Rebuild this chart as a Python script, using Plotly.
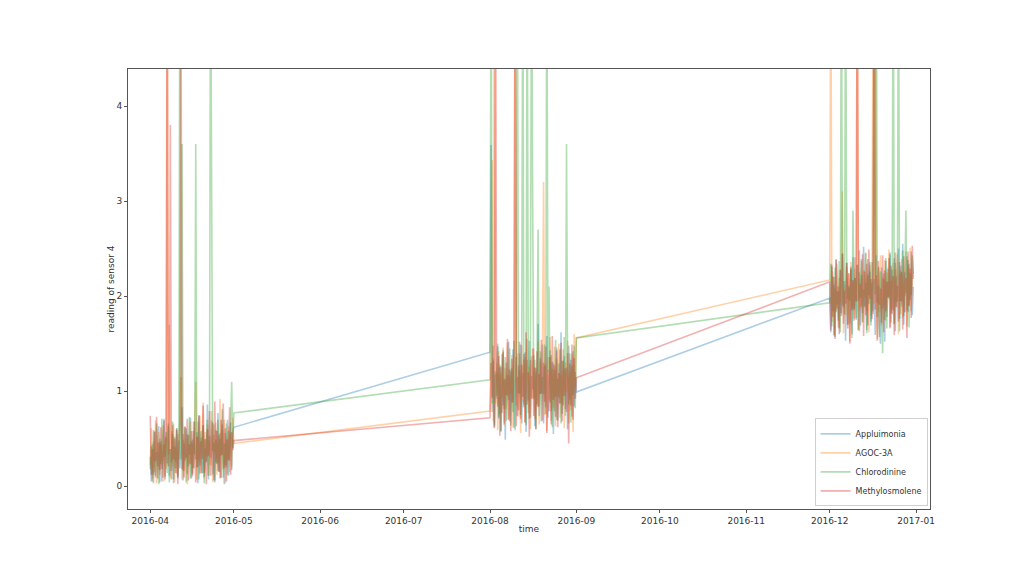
import pandas as pd
import plotly.graph_objects as go

# ---- data ----
series_names = ["Appluimonia", "AGOC-3A", "Chlorodinine", "Methylosmolene"]
series_colors = ["31,119,180", "255,127,14", "44,160,44", "214,39,40"]

period_starts = ["2016-04-01", "2016-08-01", "2016-12-01"]
period_ends = ["2016-05-01", "2016-09-01", "2016-12-31"]

apl_1 = [0.31, 0.05, 0.44, 0.12, 0.58, 0.09, 0.36, 0.21, 0.63, 0.04,
         0.47, 0.18, 0.29, 0.71, 0.07, 0.52, 0.24, 0.66, 0.11, 0.39,
         0.16, 0.55, 0.03, 0.42, 0.26, 0.61, 0.08, 0.48, 0.19, 0.35,
         0.83, 0.06, 0.45, 0.27, 0.61, 0.13, 0.54, 0.33, 0.72, 0.08,
         0.49, 0.19, 0.68, 0.28, 0.57, 0.03, 0.74, 0.22, 0.51, 0.14,
         0.64, 0.10, 0.40, 0.25, 0.86, 0.07, 0.53, 0.30, 0.69, 0.12,
         0.46, 0.04, 0.59, 0.23, 0.77, 0.15, 0.50, 0.09, 0.65, 0.34,
         0.02, 0.56, 0.20, 0.70, 0.11, 0.43, 0.67, 0.17, 0.58, 0.62]
apl_2 = [1.41, 3.59, 0.78, 1.32, 0.64, 1.18, 0.92, 1.47, 0.71, 1.25,
         0.58, 1.39, 0.85, 1.12, 0.49, 1.30, 0.95, 1.52, 0.68, 1.21,
         0.88, 1.44, 0.61, 1.08, 1.36, 0.74, 1.27, 0.97, 1.49, 0.66,
         1.19, 0.83, 1.41, 0.57, 1.33, 0.90, 1.53, 0.72, 1.16, 1.02,
         1.38, 0.63, 1.24, 0.86, 1.71, 0.74, 1.35, 0.97, 1.49, 0.66,
         1.27, 0.83, 1.58, 0.72, 1.16, 1.43, 0.79, 1.31, 0.55, 1.22,
         0.94, 1.46, 0.69, 1.29, 0.87, 1.62, 0.76, 1.14, 1.37, 0.81,
         1.25, 0.60, 1.48, 0.91, 1.33, 0.73, 1.42, 0.84, 1.20, 0.99]
apl_3 = [1.98, 1.62, 2.31, 1.84, 2.12, 1.57, 2.38, 1.91, 2.05, 1.66,
         2.27, 1.79, 2.44, 1.88, 2.16, 1.53, 2.35, 1.97, 2.09, 1.71,
         2.29, 1.60, 2.41, 1.86, 2.19, 1.75, 2.33, 1.95, 2.48, 1.69,
         2.22, 1.82, 2.52, 1.90, 2.14, 1.64, 2.39, 2.01, 2.26, 1.73,
         2.36, 1.81, 2.18, 1.59, 2.43, 1.93, 2.11, 1.68, 1.50, 2.30,
         1.87, 2.24, 1.52, 2.37, 1.78, 2.15, 1.99, 2.46, 1.72, 2.28,
         1.85, 2.40, 1.63, 2.21, 1.94, 2.50, 1.76, 2.32, 1.89, 2.55,
         1.70, 2.25, 2.03, 2.42, 1.83, 2.34, 1.96, 2.47, 1.80, 2.10]

agoc_1 = [0.22, 0.61, 0.08, 0.47, 0.15, 0.69, 0.03, 0.38, 0.57, 0.12,
          0.44, 0.26, 0.64, 0.05, 0.51, 0.18, 6.0, 0.33, 1.7, 0.09,
          0.58, 0.21, 0.66, 0.04, 0.40, 0.13, 0.55, 0.28, 0.71, 1.15,
          0.07, 0.49, 0.16, 0.62, 0.30, 0.02, 0.53, 0.24, 0.68, 0.10,
          0.45, 0.19, 0.60, 1.1, 0.06, 0.52, 0.27, 0.74, 0.14, 0.43,
          0.88, 0.08, 0.57, 0.31, 0.65, 0.11, 0.48, 0.22, 0.79, 0.04,
          0.54, 0.35, 0.67, 0.12, 0.46, 0.25, 0.92, 0.09, 0.59, 0.18,
          0.70, 0.03, 0.50, 0.29, 0.63, 0.15, 0.56, 0.20, 0.72, 0.45]
agoc_2 = [0.79, 1.35, 3.43, 0.68, 6.0, 0.87, 1.29, 0.59, 1.42, 0.76,
          1.19, 0.93, 1.46, 0.64, 1.24, 0.81, 1.51, 0.70, 1.15, 0.97,
          1.38, 0.62, 1.27, 6.0, 0.85, 1.40, 0.73, 1.22, 0.56, 1.48,
          0.89, 1.33, 0.67, 1.18, 1.55, 0.77, 1.26, 0.60, 1.37, 0.92,
          1.45, 0.71, 1.20, 0.84, 1.52, 0.65, 1.31, 0.98, 1.43, 3.2,
          0.75, 1.28, 0.58, 1.36, 0.90, 1.57, 0.69, 1.23, 0.82, 1.47,
          0.63, 1.34, 0.95, 1.50, 0.72, 1.17, 0.86, 1.44, 0.61, 1.30,
          0.99, 1.53, 0.66, 1.21, 0.80, 1.39, 0.57, 1.60, 1.04, 1.56]
agoc_3 = [2.17, 6.0, 1.73, 2.26, 1.58, 2.08, 1.85, 2.34, 1.67, 2.19,
          1.93, 2.40, 3.1, 1.61, 2.12, 1.80, 2.31, 1.70, 2.24, 1.52,
          2.36, 1.88, 2.15, 1.76, 2.29, 1.95, 6.0, 1.65, 2.18, 1.87,
          2.37, 1.72, 2.27, 1.99, 2.46, 1.84, 2.21, 1.62, 2.33, 1.79,
          2.09, 6.0, 1.92, 6.0, 2.14, 1.55, 2.30, 1.83, 2.43, 1.69,
          2.20, 1.90, 2.38, 1.74, 2.25, 1.98, 2.49, 1.66, 2.16, 1.86,
          2.35, 1.71, 2.28, 1.94, 2.44, 1.60, 2.23, 1.81, 2.39, 1.77,
          2.13, 2.00, 2.47, 1.68, 2.32, 1.89, 2.51, 1.84, 2.22, 2.21]

chl_1 = [0.18, 0.42, 0.05, 0.59, 0.27, 0.11, 0.66, 0.35, 0.02, 0.50,
         0.23, 0.71, 0.09, 0.44, 0.31, 0.57, 0.14, 0.63, 0.04, 0.39,
         0.25, 0.68, 0.07, 0.52, 0.19, 0.61, 0.10, 0.46, 6.0, 0.28,
         3.6, 0.16, 0.62, 0.30, 0.04, 0.55, 0.21, 0.73, 0.08, 0.47,
         0.13, 0.58, 0.34, 3.6, 0.20, 0.68, 0.07, 0.41, 0.58, 0.13,
         0.64, 0.03, 0.49, 0.26, 0.70, 0.11, 0.53, 6.0, 1.95, 0.37,
         0.65, 0.06, 0.49, 0.24, 0.70, 0.15, 0.56, 0.32, 0.81, 0.09,
         0.45, 0.22, 0.66, 0.12, 0.58, 0.27, 0.71, 1.1, 0.40, 0.77]
chl_2 = [1.12, 6.0, 0.87, 1.34, 0.62, 1.21, 0.95, 1.50, 0.73, 1.28,
         0.57, 1.09, 1.43, 0.81, 1.36, 0.69, 1.17, 0.91, 1.45, 0.64,
         1.24, 0.78, 1.53, 0.59, 1.31, 6.0, 0.98, 1.40, 0.75, 1.19,
         6.0, 0.86, 1.36, 0.64, 6.0, 1.24, 0.71, 1.47, 6.0, 3.1,
         0.92, 1.33, 0.60, 1.26, 2.7, 0.84, 1.42, 0.68, 1.15, 0.97,
         1.49, 0.76, 6.0, 1.21, 2.1, 0.88, 1.38, 0.62, 1.29, 0.79,
         1.54, 0.70, 1.13, 0.93, 1.44, 0.66, 1.32, 0.85, 1.57, 0.74,
         3.6, 1.19, 0.86, 1.40, 0.67, 1.27, 0.96, 1.48, 0.82, 1.56]
chl_3 = [1.93, 2.34, 1.68, 2.21, 1.59, 2.30, 1.83, 2.05, 1.74, 2.37,
         1.62, 6.0, 1.90, 2.16, 1.81, 6.0, 2.42, 1.70, 2.11, 1.95,
         2.28, 1.56, 2.9, 1.86, 2.19, 1.77, 2.33, 1.64, 2.25, 1.98,
         2.39, 1.73, 2.07, 1.88, 2.45, 1.61, 2.23, 1.92, 2.36, 1.69,
         2.14, 1.84, 6.0, 2.02, 6.0, 1.78, 2.31, 1.57, 2.26, 1.91,
         1.40, 2.18, 1.75, 2.40, 1.66, 2.29, 1.97, 2.44, 1.82, 2.12,
         6.0, 1.71, 2.35, 1.89, 2.20, 6.0, 1.63, 2.27, 1.94, 2.48,
         1.79, 2.16, 2.9, 1.85, 2.38, 1.67, 2.24, 2.01, 2.43, 2.23]

met_1 = [0.74, 0.12, 0.39, 0.03, 0.57, 0.26, 0.73, 0.08, 0.46, 0.17,
         0.62, 0.05, 0.34, 0.69, 0.10, 0.53, 6.0, 0.21, 0.45, 3.8,
         0.07, 0.64, 0.28, 0.50, 0.14, 0.59, 0.02, 0.41, 0.67, 6.0,
         0.18, 0.55, 0.09, 0.63, 0.30, 0.71, 0.06, 0.44, 0.23, 0.58,
         0.11, 0.68, 0.36, 0.04, 0.52, 0.20, 0.75, 0.13, 0.47, 0.29,
         0.85, 0.14, 0.50, 0.02, 0.60, 0.32, 0.79, 0.11, 0.43, 0.67,
         0.06, 0.89, 0.25, 0.58, 0.16, 0.54, 0.08, 0.70, 0.33, 0.87,
         0.19, 0.61, 0.05, 0.49, 0.27, 0.83, 0.12, 0.57, 0.38, 0.48]
met_2 = [0.72, 1.30, 0.93, 1.48, 0.61, 6.0, 1.19, 0.84, 1.37, 0.53,
         1.26, 0.77, 1.41, 0.66, 1.13, 0.96, 1.55, 0.70, 1.23, 0.58,
         1.34, 0.88, 1.46, 6.0, 0.63, 1.15, 0.80, 1.52, 0.71, 1.28,
         0.94, 1.39, 0.67, 1.62, 0.86, 1.20, 0.52, 1.33, 0.92, 1.45,
         0.74, 1.25, 0.60, 1.42, 0.83, 1.18, 0.97, 1.54, 0.69, 1.30,
         0.89, 1.47, 0.56, 1.22, 0.79, 1.36, 0.65, 1.58, 0.91, 1.27,
         0.73, 1.43, 0.62, 1.19, 0.87, 1.51, 0.68, 1.32, 0.95, 1.24,
         0.78, 1.40, 0.45, 1.29, 0.85, 1.49, 0.70, 1.35, 0.92, 1.14]
met_3 = [2.15, 1.64, 2.33, 1.78, 2.20, 1.55, 2.39, 1.87, 2.10, 1.60,
         2.28, 1.82, 2.45, 1.71, 2.06, 1.92, 2.35, 1.66, 2.24, 1.50,
         2.31, 1.85, 2.17, 1.74, 2.41, 1.94, 6.0, 2.38, 1.63, 2.13,
         1.89, 2.44, 1.58, 2.26, 1.80, 2.34, 1.69, 2.49, 1.97, 2.18,
         1.76, 2.30, 6.0, 1.86, 2.22, 1.53, 2.37, 1.91, 2.08, 1.72,
         2.43, 1.62, 2.27, 1.84, 2.15, 1.99, 2.40, 1.67, 2.32, 1.81,
         2.21, 1.59, 2.46, 1.88, 2.11, 1.73, 2.36, 1.95, 2.25, 1.65,
         2.42, 1.83, 2.19, 1.56, 2.47, 1.90, 2.29, 1.77, 2.53, 2.18]

series_values = [
    [apl_1, apl_2, apl_3],
    [agoc_1, agoc_2, agoc_3],
    [chl_1, chl_2, chl_3],
    [met_1, met_2, met_3],
]

x_tick_dates = pd.date_range("2016-04-01", "2017-01-01", freq="MS")

# ---- figure ----
fig = go.Figure()
for name, rgb, chunks in zip(series_names, series_colors, series_values):
    xs, ys = [], []
    for start, end, vals in zip(period_starts, period_ends, chunks):
        t = pd.date_range(start, end, periods=len(vals))
        xs.extend(list(t))
        ys.extend(vals)
    fig.add_trace(go.Scatter(
        x=xs, y=ys, mode="lines", name=name,
        line=dict(color=f"rgba({rgb},0.36)", width=1.6),
    ))

font = dict(family="DejaVu Sans", size=9, color="#333333")
fig.update_layout(
    width=1032, height=571,
    margin=dict(l=120, r=110, t=61, b=70),
    paper_bgcolor="white", plot_bgcolor="white",
    font=font,
    showlegend=True,
    legend=dict(
        x=0.997, y=0.006, xanchor="right", yanchor="bottom",
        bgcolor="rgba(255,255,255,0.85)", bordercolor="#d0d0d0", borderwidth=1,
        font=dict(family="DejaVu Sans", size=8, color="#333333"),
        itemwidth=30, tracegroupgap=0,
    ),
    xaxis=dict(
        range=["2016-03-24", "2017-01-06"],
        tickvals=list(x_tick_dates), ticktext=[d.strftime("%Y-%m") for d in x_tick_dates],
        ticks="outside", ticklen=3, tickcolor="#555", showgrid=False, zeroline=False,
        showline=True, linecolor="#555", linewidth=1, mirror=True, automargin=False,
        title=dict(text="time", standoff=0, font=font),
    ),
    yaxis=dict(
        range=[-0.24, 4.39],
        tickvals=[0, 1, 2, 3, 4],
        ticks="outside", ticklen=3, tickcolor="#555", showgrid=False, zeroline=False,
        showline=True, linecolor="#555", linewidth=1, mirror=True, automargin=False,
        title=dict(text="reading of sensor 4", standoff=0, font=font),
    ),
)

fig.write_html("out.html")
